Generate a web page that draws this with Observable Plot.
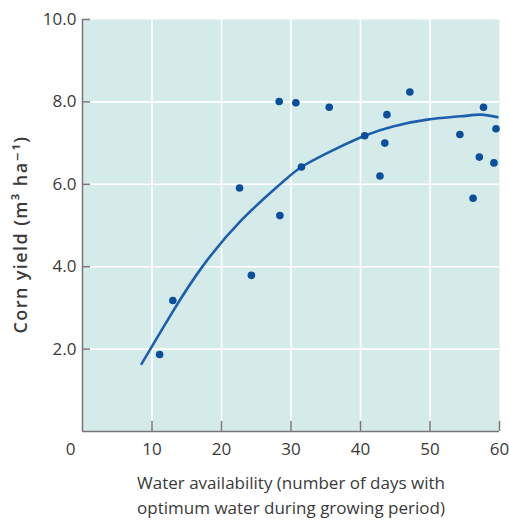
<!DOCTYPE html>
<html>
<head>
<meta charset="utf-8">
<script src="https://cdn.jsdelivr.net/npm/d3@7"></script>
<script src="https://cdn.jsdelivr.net/npm/@observablehq/plot@0.6"></script>
<style>
  html, body { margin: 0; padding: 0; background: #fff; }
  #chart svg { display: block; }
</style>
</head>
<body>
<div id="chart"></div>
<script>
// Observed points: water availability (days) vs corn yield
const waterDays = [11.1, 13.0, 22.6, 24.3, 28.3, 28.4, 30.7, 31.5, 35.5, 40.6, 42.8, 43.5, 43.8, 47.1, 54.3, 56.2, 57.1, 57.7, 59.2, 59.5];
const cornYield = [1.87, 3.18, 5.91, 3.79, 8.01, 5.24, 7.98, 6.42, 7.87, 7.18, 6.2, 7.0, 7.69, 8.24, 7.21, 5.66, 6.66, 7.87, 6.52, 7.35];

// Fitted curve
const fitDays = [8.5, 13.1, 17.2, 22.7, 28.5, 31.5, 35.7, 40.6, 44.8, 49.6, 54.4, 57.3, 59.7];
const fitYield = [1.64, 2.94, 3.99, 5.1, 6.01, 6.42, 6.80, 7.18, 7.41, 7.57, 7.65, 7.69, 7.63];

// Axis ticks
const xTicks = [0, 10, 20, 30, 40, 50, 60];
const yTicks = [2, 4, 6, 8, 10];
const yTickLabels = ["2.0", "4.0", "6.0", "8.0", "10.0"];

const xTitle = "Water availability (number of days with\noptimum water during growing period)";
const yTitle = "Corn yield (m³ ha⁻¹)";

const points = waterDays.map((d, i) => ({x: d, y: cornYield[i]}));
const fit = fitDays.map((d, i) => ({x: d, y: fitYield[i]}));

const W = 509, H = 521;
const mL = 82, mR = 10, mT = 19, mB = 90;
const frameW = W - mL - mR, frameH = H - mT - mB;
const font = "'Open Sans', 'DejaVu Sans', sans-serif";
const textColor = "#3a3a3a";
const axisColor = "#777";

const chart = Plot.plot({
  width: W,
  height: H,
  marginLeft: mL,
  marginRight: mR,
  marginTop: mT,
  marginBottom: mB,
  style: {fontFamily: font, background: "#fff", overflow: "visible"},
  x: {domain: [0, 60], axis: null},
  y: {domain: [0, 10], axis: null},
  marks: [
    Plot.frame({fill: "#d5ebe9", stroke: null}),
    // gridlines
    Plot.ruleX(xTicks.filter(d => d > 0 && d < 60), {x: d => d, stroke: "#fff", strokeWidth: 1.6}),
    Plot.ruleY(yTicks.filter(d => d < 10), {y: d => d, stroke: "#fff", strokeWidth: 1.6}),
    // axis lines
    Plot.ruleX([0], {stroke: axisColor, strokeWidth: 1.5}),
    Plot.ruleY([0], {stroke: axisColor, strokeWidth: 1.5}),
    // inward ticks
    Plot.ruleX(xTicks.filter(d => d > 0), {x: d => d, stroke: axisColor, strokeWidth: 1.5, insetTop: frameH - 10}),
    Plot.ruleY(yTicks, {y: d => d, stroke: axisColor, strokeWidth: 1.5, insetRight: frameW - 8}),
    // tick labels
    Plot.text(xTicks.filter(d => d > 0), {x: d => d, text: d => String(d), frameAnchor: "bottom", lineAnchor: "middle", dy: 18, fontSize: 17, fill: textColor}),
    Plot.text(xTicks.filter(d => d === 0), {x: d => d, text: d => String(d), frameAnchor: "bottom", lineAnchor: "middle", dy: 18, dx: -12, fontSize: 17, fill: textColor}),
    Plot.text(yTicks, {y: d => d, text: (d, i) => yTickLabels[i], frameAnchor: "left", lineAnchor: "middle", dx: -6, textAnchor: "end", fontSize: 17, fill: textColor}),
    // fitted curve
    Plot.line(fit, {x: "x", y: "y", curve: "natural", stroke: "#1d5fae", strokeWidth: 2.6}),
    // observations
    Plot.dot(points, {x: "x", y: "y", r: 3.8, fill: "#0b4e9b", stroke: null}),
    // axis titles
    Plot.text([xTitle], {text: d => d, frameAnchor: "bottom", dy: 62, lineAnchor: "middle", textAnchor: "middle", lineHeight: 1.45, fontSize: 17, fill: textColor}),
    Plot.text([yTitle], {text: d => d, frameAnchor: "left", dx: -61, dy: 9, rotate: -90, textAnchor: "middle", lineAnchor: "middle", fontSize: 18, fontWeight: 600, fill: textColor, className: "ytitle"})
  ]
});

document.getElementById("chart").appendChild(chart);
chart.querySelectorAll(".ytitle text").forEach(t => t.setAttribute("letter-spacing", "1.4"));
</script>
</body>
</html>
